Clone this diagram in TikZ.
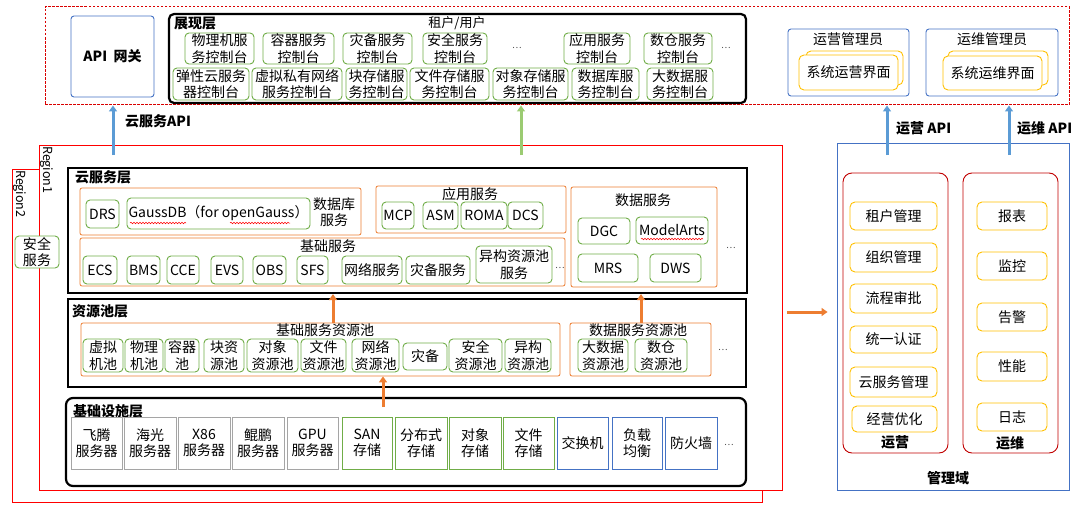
\documentclass[tikz,border=0pt]{standalone}
\usepackage{fontspec}
\setmainfont{Noto Sans CJK SC}
\usetikzlibrary{arrows.meta,decorations.pathmorphing}
\definecolor{grn}{HTML}{70AD47}
\definecolor{org}{HTML}{ED7D31}
\definecolor{blu}{HTML}{4472C4}
\definecolor{lblu}{HTML}{5B9BD5}
\definecolor{ylw}{HTML}{FFC000}
\definecolor{dred}{HTML}{C00000}
\definecolor{gry}{HTML}{A5A5A5}
\definecolor{lgrn}{HTML}{9BCB72}
\newcommand\bx[7]{%
 \pgfmathsetmacro\bxcx{(#3+#5)/2}\pgfmathsetmacro\bxcy{(#4+#6)/2}%
 \pgfmathsetmacro\bxw{#5-#3}\pgfmathsetmacro\bxh{#6-#4}%
 \node[#2, minimum width=\bxw pt, minimum height=\bxh pt, inner sep=0pt, align=center] (#1) at (\bxcx,\bxcy) {#7};}
\begin{document}
\begin{tikzpicture}[x=1pt,y=-1pt,
  every node/.style={font=\fontsize{14}{16.5}\selectfont},
  gbox/.style={draw=grn, line width=0.9pt, rounded corners=4pt, fill=white},
  gsq/.style={draw=grn, line width=0.9pt},
  bsq/.style={draw=blu, line width=0.9pt},
  graybox/.style={draw=gry, line width=0.9pt},
  obox/.style={draw=org, line width=0.8pt, rounded corners=2pt},
  blk/.style={draw=black, line width=2.2pt},
  ybox/.style={draw=ylw, line width=0.9pt, rounded corners=5pt, fill=white},
  rbox/.style={draw=dred, line width=0.9pt, rounded corners=9pt},
  bbox/.style={draw=blu, line width=0.9pt, rounded corners=3pt},
  lab/.style={font=\fontsize{14}{16.5}\selectfont\bfseries, inner sep=0pt},
  plain/.style={inner sep=0pt},
  dots/.style={font=\fontsize{9}{10}\selectfont, text=black!70, inner sep=0pt},
  reglab/.style={font=\fontsize{12.5}{14}\selectfont, inner sep=0pt, rotate=-90, anchor=west},
  barrow/.style={draw=lblu, line width=3pt, -{Triangle[width=8pt,length=6pt]}},
  garrow/.style={draw=lgrn, line width=3pt, -{Triangle[width=8pt,length=6pt]}},
  oarrow/.style={draw=org, line width=3pt, -{Triangle[width=8pt,length=6pt]}},
  wavy/.style={draw=red, line width=0.5pt, decorate, decoration={snake, amplitude=0.8pt, segment length=3pt}}
]
\useasboundingbox (0,0) rectangle (1086,508);

% ---------------- top dashed area ----------------
\bx{top}{draw=red!85!black, line width=1pt, dash pattern=on 2.5pt off 1.5pt}{45}{7}{1069}{105}{}
\bx{api}{bbox}{71}{16}{154}{97}{\bfseries API\ \ 网关}

\bx{show}{blk, rounded corners=5pt}{169}{14}{746}{103}{}
\node[lab, anchor=west] (showlab) at (174,24) {展现层};
\node[plain, font=\fontsize{13}{15}\selectfont] (tenant) at (457,23) {租户/用户};
\bx{p1}{gbox}{185}{33}{254}{64}{物理机服\\务控制台}
\bx{p2}{gbox}{263}{33}{334}{64}{容器服务\\控制台}
\bx{p3}{gbox}{343}{33}{412}{64}{灾备服务\\控制台}
\bx{p4}{gbox}{423}{33}{487}{64}{安全服务\\控制台}
\node[dots] (pd1) at (517,48) {…};
\bx{p5}{gbox}{564}{33}{630}{64}{应用服务\\控制台}
\bx{p6}{gbox}{644}{33}{712}{64}{数仓服务\\控制台}
\node[dots] (pd2) at (726,48) {…};
\bx{q1}{gbox}{173}{68}{249}{100}{弹性云服务\\器控制台}
\bx{q2}{gbox}{252}{68}{342}{100}{虚拟私有网络\\服务控制台}
\bx{q3}{gbox}{346}{68}{407}{100}{块存储服\\务控制台}
\bx{q4}{gbox}{410}{68}{489}{100}{文件存储服\\务控制台}
\bx{q5}{gbox}{493}{68}{568}{100}{对象存储服\\务控制台}
\bx{q6}{gbox}{572}{68}{639}{100}{数据库服\\务控制台}
\bx{q7}{gbox}{647}{68}{713}{100}{大数据服\\务控制台}

\bx{a1}{bbox}{788}{29}{909}{96}{}
\node[plain] (a1lab) at (848,39) {运营管理员};
\bx{a1b}{ybox}{806}{51}{903}{85}{}
\bx{a1f}{ybox}{799}{55}{898}{90}{系统运营界面}
\bx{a2}{bbox}{926}{29}{1058}{96}{}
\node[plain] (a2lab) at (992,39) {运维管理员};
\bx{a2b}{ybox}{948}{51}{1048}{85}{}
\bx{a2f}{ybox}{943}{56}{1042}{90}{系统运维界面}

% ---------------- regions ----------------
\bx{r2}{draw=red, line width=0.8pt}{12}{169}{762}{502}{}
\bx{r1}{draw=red, line width=0.8pt, fill=white}{39}{145}{782}{490}{}
\node[reglab] (r1lab) at (47,146) {Region1};
\node[reglab] (r2lab) at (19.5,170) {Region2};
\bx{sec}{gbox}{15}{236}{59}{268}{安全\\服务}

% ---------------- cloud service layer ----------------
\bx{cloud}{blk}{68}{168}{747}{293}{}
\node[lab, anchor=west] (cloudlab) at (75,177) {云服务层};
\bx{db}{obox}{80}{188}{361}{235}{}
\bx{drs}{gbox}{86}{200}{119}{228}{DRS}
\bx{gauss}{gbox}{127}{198}{310}{229}{GaussDB（for openGauss）}
\node[plain, align=center] (dblab) at (334,212) {数据库\\服务};
\draw[wavy] (130,223) -- (186,223);
\draw[wavy] (230,223) -- (290,223);
\bx{basic}{obox}{80}{238}{565}{286}{}
\node[plain] (basiclab) at (328,246) {基础服务};
\bx{ecs}{gbox}{83}{256}{117}{284}{ECS}
\bx{bms}{gbox}{127}{256}{160}{284}{BMS}
\bx{cce}{gbox}{167}{256}{199}{284}{CCE}
\bx{evs}{gbox}{211}{256}{243}{284}{EVS}
\bx{obs}{gbox}{253}{256}{286}{284}{OBS}
\bx{sfs}{gbox}{297}{256}{328}{284}{SFS}
\bx{net}{gbox}{342}{256}{402}{284}{网络服务}
\bx{dr}{gbox}{406}{256}{470}{284}{灾备服务}
\bx{het}{gbox}{476}{246}{552}{283}{异构资源池\\服务}
\node[dots] (bd) at (560,268) {…};
\bx{app}{obox}{376}{186}{566}{233}{}
\node[plain] (applab) at (470,194) {应用服务};
\bx{mcp}{gbox}{382}{202}{414}{229}{MCP}
\bx{asm}{gbox}{423}{202}{458}{229}{ASM}
\bx{roma}{gbox}{461}{202}{507}{229}{ROMA}
\bx{dcs}{gbox}{508}{202}{543}{229}{DCS}
\bx{data}{obox}{571}{187}{717}{287}{}
\node[plain] (datalab) at (643,200) {数据服务};
\bx{dgc}{gbox}{578}{218}{630}{244}{DGC}
\bx{ma}{gbox}{636}{217}{708}{244}{ModelArts}
\draw[wavy] (641,239) -- (703,239);
\bx{mrs}{gbox}{578}{254}{638}{282}{MRS}
\bx{dws}{gbox}{650}{254}{701}{282}{DWS}
\node[dots] (cd) at (731,248) {…};

% ---------------- resource pool layer ----------------
\bx{pool}{blk}{68}{299}{746}{387}{}
\node[lab, anchor=west] (poollab) at (72,311) {资源池层};
\bx{bpool}{obox}{81}{323}{560}{376}{}
\node[plain] (bpoollab) at (325,330) {基础服务资源池};
\bx{vm}{gbox}{83}{339}{123}{372}{虚拟\\机池}
\bx{pm}{gbox}{125}{339}{163}{372}{物理\\机池}
\bx{ct}{gbox}{165}{339}{199}{372}{容器\\池}
\bx{blkp}{gbox}{204}{339}{244}{372}{块资\\源池}
\bx{objp}{gbox}{247}{339}{298}{372}{对象\\资源池}
\bx{filep}{gbox}{301}{339}{346}{372}{文件\\资源池}
\bx{netp}{gbox}{352}{339}{399}{372}{网络\\资源池}
\bx{drp}{gbox}{403}{343}{447}{370}{灾备}
\bx{secp}{gbox}{449}{339}{502}{372}{安全\\资源池}
\bx{hetp}{gbox}{505}{339}{551}{372}{异构\\资源池}
\bx{dpool}{obox}{570}{323}{711}{376}{}
\node[plain] (dpoollab) at (638,330) {数据服务资源池};
\bx{bigp}{gbox}{578}{339}{628}{372}{大数据\\资源池}
\bx{dwp}{gbox}{635}{339}{687}{372}{数仓\\资源池}
\node[dots] (pld) at (723,350) {…};

% ---------------- infrastructure layer ----------------
\bx{infra}{blk, rounded corners=7pt}{66}{398}{746}{486}{}
\node[lab, anchor=west] (infralab) at (73,411) {基础设施层};
\bx{ft}{graybox}{71}{417}{122}{469}{飞腾\\服务器}
\bx{hg}{graybox}{124}{417}{176}{469}{海光\\服务器}
\bx{x86}{graybox}{178}{417}{230}{469}{X86\\服务器}
\bx{kp}{graybox}{232}{417}{284}{469}{鲲鹏\\服务器}
\bx{gpu}{graybox}{287}{417}{338}{469}{GPU\\服务器}
\bx{san}{gsq}{342}{417}{392}{469}{SAN\\存储}
\bx{dist}{gsq}{395}{417}{447}{469}{分布式\\存储}
\bx{objs}{gsq}{449}{417}{501}{469}{对象\\存储}
\bx{files}{gsq}{503}{417}{554}{469}{文件\\存储}
\bx{sw}{bsq}{557}{417}{608}{469}{交换机}
\bx{lb}{bsq}{612}{417}{662}{469}{负载\\均衡}
\bx{fw}{bsq}{665}{417}{717}{469}{防火墙}
\node[dots] (ifd) at (729,445) {…};

% ---------------- management domain ----------------
\bx{mgmt}{draw=blu, line width=0.9pt}{837}{143}{1069}{490}{}
\node[lab] (mgmtlab) at (948,478) {管理域};
\bx{op}{rbox}{843}{173}{948}{453}{}
\node[lab] (oplab) at (895,442) {运营};
\bx{o1}{ybox}{850}{202}{937}{230}{租户管理}
\bx{o2}{ybox}{850}{243}{937}{272}{组织管理}
\bx{o3}{ybox}{850}{284}{937}{313}{流程审批}
\bx{o4}{ybox}{850}{326}{937}{353}{统一认证}
\bx{o5}{ybox}{850}{367}{937}{397}{云服务管理}
\bx{o6}{ybox}{852}{406}{937}{432}{经营优化}
\bx{om}{rbox}{963}{173}{1058}{453}{}
\node[lab] (omlab) at (1010,443) {运维};
\bx{m1}{ybox}{977}{202}{1047}{230}{报表}
\bx{m2}{ybox}{977}{252}{1047}{280}{监控}
\bx{m3}{ybox}{977}{303}{1047}{331}{告警}
\bx{m4}{ybox}{977}{352}{1047}{381}{性能}
\bx{m5}{ybox}{977}{403}{1047}{431}{日志}

% ---------------- arrows ----------------
\coordinate (capi) at (113,155);
\draw[barrow] (capi) -- (capi |- top.south);
\node[lab, anchor=west] (capilab) at (125,121) {云服务API};
\coordinate (cshow) at (521,155);
\draw[garrow] (cshow) -- (cshow |- top.south);
\coordinate (cop) at (887,155);
\draw[barrow] (cop) -- (cop |- top.south);
\node[lab, anchor=west] (coplab) at (896,128) {运营 API};
\coordinate (com) at (1009,155);
\draw[barrow] (com) -- (com |- top.south);
\node[lab, anchor=west] (comlab) at (1017,128) {运维 API};

\coordinate (cb1) at (333,0);
\draw[oarrow] (bpool.north -| cb1) -- (cloud.south -| cb1);
\coordinate (cb2) at (641,0);
\draw[oarrow] (dpool.north -| cb2) -- (cloud.south -| cb2);
\coordinate (cb3) at (383,407);
\draw[oarrow] (cb3) -- (bpool.south -| cb3);
\coordinate (cb4) at (787,312);
\draw[oarrow, shorten >=9pt] (cb4) -- (mgmt.west |- cb4);
\end{tikzpicture}
\end{document}
